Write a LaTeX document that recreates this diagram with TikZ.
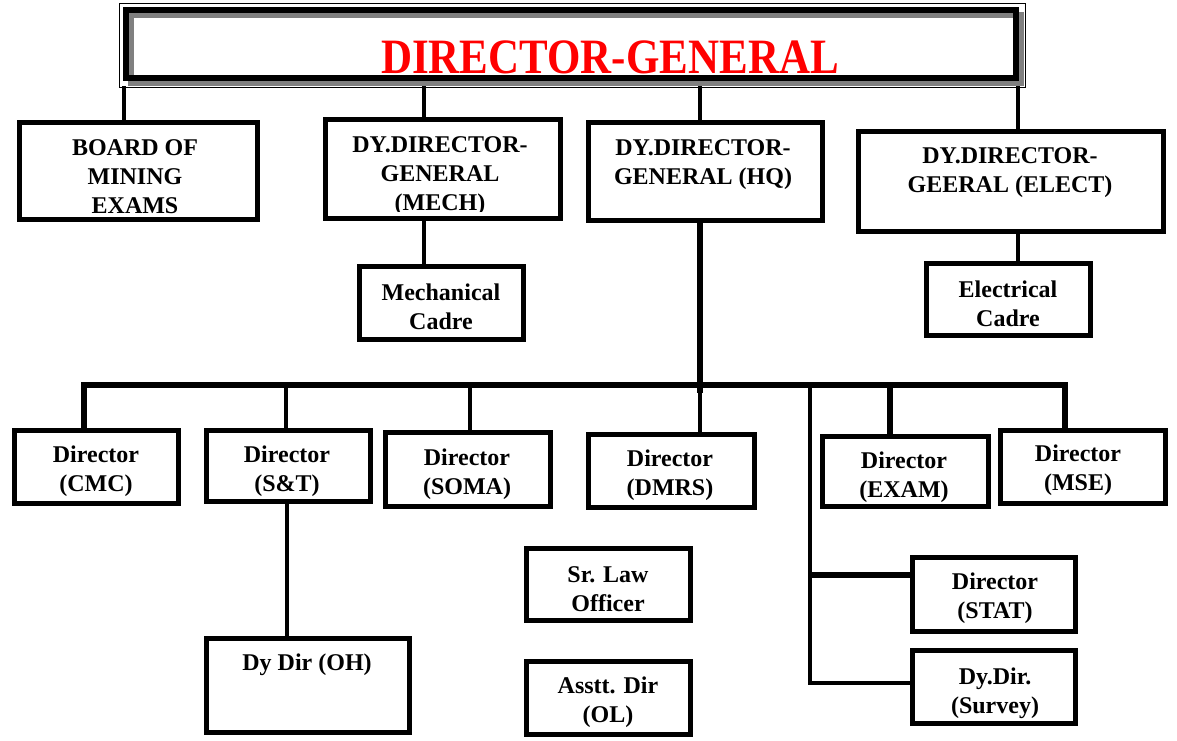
\documentclass[tikz,border=0pt]{standalone}
\usepackage{fontspec}
\setmainfont{Liberation Serif}
\usepackage{graphicx}
\begin{document}
\begin{tikzpicture}[x=0.5pt,y=-0.5pt,
  box/.style 2 args={draw, line width=2.5pt, rectangle, inner sep=0pt,
    minimum width=#1*0.5pt, minimum height=#2*0.5pt},
  txt/.style={font=\bfseries\fontsize{12}{14.5}\selectfont, align=center, inner sep=0pt},
  conn/.style={line width=2.2pt, line join=miter},
  bus/.style={line width=2.6pt}]
\useasboundingbox (0,0) rectangle (1177,740);

% ---- Director-General frame
\draw[line width=0.5pt] (119,3) rectangle (1025,87);
\node[draw=gray, line width=3.2pt, rectangle, inner sep=0pt,
  minimum width=890*0.5pt, minimum height=68*0.5pt] (dgs) at (576,49) {};
\node[draw, line width=3.3pt, rectangle, inner sep=0pt,
  minimum width=890*0.5pt, minimum height=68*0.5pt] (dg) at (571,44) {};
\node[text=red, font=\bfseries\fontsize{24}{28}\selectfont, inner sep=0pt] (dgt)
  at (610,57) {\scalebox{0.895}[1.03]{DIRECTOR-GENERAL}};

% ---- boxes
\node[box={237.5}{96.5}] (board) at (138.25,170.75) {};
\node[box={235}{99}] (mech) at (442.5,169) {};
\node[box={234}{98}] (hq) at (705,171) {};
\node[box={305}{100}] (elect) at (1010.5,181) {};
\node[box={164}{73}] (mechc) at (441,302.5) {};
\node[box={164}{72}] (elecc) at (1008,299) {};
\node[box={164}{73}] (cmc) at (96,466.5) {};
\node[box={164}{71}] (snt) at (288,465.5) {};
\node[box={165}{74}] (soma) at (467.5,469) {};
\node[box={166}{73}] (dmrs) at (671,470.5) {};
\node[box={166}{70}] (exam) at (905,471.5) {};
\node[box={165}{73}] (mse) at (1082.5,466.5) {};
\node[box={203}{94}] (dyoh) at (307.5,685) {};
\node[box={164}{72}] (law) at (608,584) {};
\node[box={164}{73}] (ol) at (608,697.5) {};
\node[box={163}{74}] (stat) at (993.5,594) {};
\node[box={163}{73}] (survey) at (993.5,686.5) {};

% ---- texts (the two upper-left ones are cut off at the bottom, as in the original)
\coordinate (yclipA) at (0,213);
\coordinate (yclipB) at (0,211);
\begin{scope}
\clip (board.north west) rectangle (board.east |- yclipA);
\node[txt] (tboard) at (135,177) {BOARD OF\\MINING\\EXAMS};
\end{scope}
\begin{scope}
\clip (mech.north west) rectangle (mech.east |- yclipB);
\node[txt] (tmech) at (440,176) {DY.DIRECTOR-\\GENERAL\\(MECH)};
\end{scope}
\node[txt] (thq) at (703,165) {DY.DIRECTOR-\\GENERAL (HQ)};
\node[txt] (telect) at (1010,173) {DY.DIRECTOR-\\GEERAL (ELECT)};
\node[txt] (tmechc) at (441,307) {Mechanical\\Cadre};
\node[txt] (telecc) at (1008,304) {Electrical\\Cadre};
\node[txt] (tcmc) at (96,471) {Director\\(CMC)};
\node[txt] (tsnt) at (287,471) {Director\\(S\&T)};
\node[txt] (tsoma) at (467,474) {Director\\(SOMA)};
\node[txt] (tdmrs) at (670,475) {Director\\(DMRS)};
\node[txt] (texam) at (904,477) {Director\\(EXAM)};
\node[txt] (tmse) at (1078,470) {Director\\(MSE)};
\node[txt] (tdyoh) at (307,665) {Dy Dir (OH)};
\node[txt] (tlaw) at (608,589) {Sr. Law\\Officer};
\node[txt] (tol) at (608,702) {Asstt. Dir\\(OL)};
\node[txt] (tstat) at (995,598) {Director\\(STAT)};
\node[txt] (tsurvey) at (995,693) {Dy.Dir.\\(Survey)};

% ---- connector x positions
\coordinate (xa) at (124,0);
\coordinate (xb) at (424,0);
\coordinate (xc) at (700,0);
\coordinate (xd) at (1018,0);
\coordinate (x1) at (84,0);
\coordinate (x2) at (286,0);
\coordinate (x3) at (470,0);
\coordinate (x5) at (890,0);
\coordinate (x6) at (1065,0);
\coordinate (xs) at (810,0);
\coordinate (xo) at (287,0);
\coordinate (busL) at (84,385);
\coordinate (busR) at (1065,385);
\coordinate (ystat) at (0,575);
\coordinate (ysurv) at (0,683);

% ---- connectors from DG
\draw[conn] (xa |- dgs.south) -- (xa |- board.north);
\draw[conn] (xb |- dgs.south) -- (xb |- mech.north);
\draw[conn] (xc |- dgs.south) -- (xc |- hq.north);
\draw[conn] (xd |- dgs.south) -- (xd |- elect.north);
\draw[conn] (xb |- mech.south) -- (xb |- mechc.north);
\draw[conn] (xd |- elect.south) -- (xd |- elecc.north);

% ---- HQ to bus
\draw[bus] (xc |- hq.south) -- (700,393);
\draw[bus] (x1 |- cmc.north) -- (busL) -- (busR) -- (x6 |- mse.north);
\draw[conn] (x2 |- busL) -- (x2 |- snt.north);
\draw[conn] (x3 |- busL) -- (x3 |- soma.north);
\draw[conn] (xc |- busL) -- (xc |- dmrs.north);
\draw[bus] (x5 |- busL) -- (x5 |- exam.north);

% ---- Stat / Survey branch
\draw[conn] (xs |- busL) -- (xs |- ysurv) -- (ysurv -| survey.west);
\draw[bus] (xs |- ystat) -- (ystat -| stat.west);

% ---- S&T to Dy Dir (OH)
\draw[conn] (xo |- snt.south) -- (xo |- dyoh.north);
\end{tikzpicture}
\end{document}
